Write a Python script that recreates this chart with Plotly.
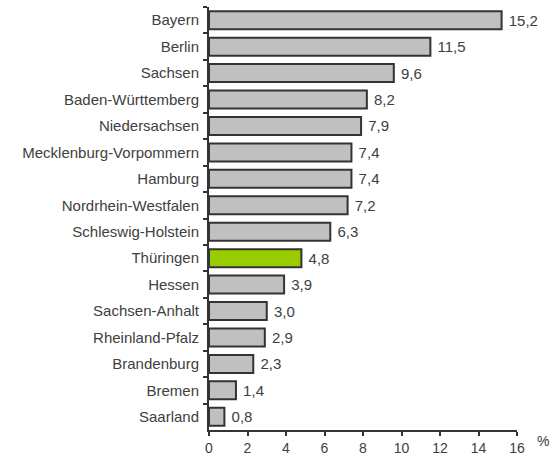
import plotly.graph_objects as go

# Bundesländer und Werte (%)
laender = ["Bayern", "Berlin", "Sachsen", "Baden-Württemberg", "Niedersachsen",
           "Mecklenburg-Vorpommern", "Hamburg", "Nordrhein-Westfalen",
           "Schleswig-Holstein", "Thüringen", "Hessen", "Sachsen-Anhalt",
           "Rheinland-Pfalz", "Brandenburg", "Bremen", "Saarland"]
werte = [15.2, 11.5, 9.6, 8.2, 7.9, 7.4, 7.4, 7.2, 6.3, 4.8, 3.9, 3.0, 2.9, 2.3, 1.4, 0.8]
x_ticks = [0, 2, 4, 6, 8, 10, 12, 14, 16]

GRAU = "#c0c0c0"
GRUEN = "#99cc00"
farben = [GRUEN if l == "Thüringen" else GRAU for l in laender]

fig = go.Figure(go.Bar(
    x=werte,
    y=laender,
    orientation="h",
    marker=dict(color=farben, line=dict(color="#333333", width=2)),
    texttemplate=" %{x:.1f}",
    textposition="outside",
    textfont=dict(size=15, color="#404040"),
    cliponaxis=False,
))

fig.update_layout(
    template="none",
    width=552, height=458,
    margin=dict(l=209, r=35, t=7, b=28, autoexpand=False),
    plot_bgcolor="white", paper_bgcolor="white",
    separators=",.",
    font=dict(family="Liberation Sans, Arial, sans-serif", size=15, color="#404040"),
    bargap=0.32,
    showlegend=False,
    xaxis=dict(
        range=[0, 16], tickvals=x_ticks, showgrid=False, zeroline=False,
        showline=True, linecolor="#333333", linewidth=2,
        ticks="outside", ticklen=4, tickcolor="#333333", tickwidth=2,
        tickfont=dict(size=14), automargin=False,
    ),
    yaxis=dict(
        autorange="reversed", showgrid=False, zeroline=False,
        showline=True, linecolor="#333333", linewidth=2,
        ticks="outside", ticklen=4, tickcolor="#333333", tickwidth=2,
        tickson="boundaries", ticklabelstandoff=5, automargin=False,
    ),
)

# Einheit rechts neben der x-Achse
fig.add_annotation(text="%", xref="paper", yref="paper", x=1.085, y=0,
                   yshift=-1, showarrow=False, xanchor="center", yanchor="top",
                   font=dict(size=14, color="#404040"))

# Seitenrand des body entfernen, damit das Diagramm bei (0,0) beginnt
fig.write_html("out.html", config={"displayModeBar": False},
               post_script="document.body.style.margin='0';")
